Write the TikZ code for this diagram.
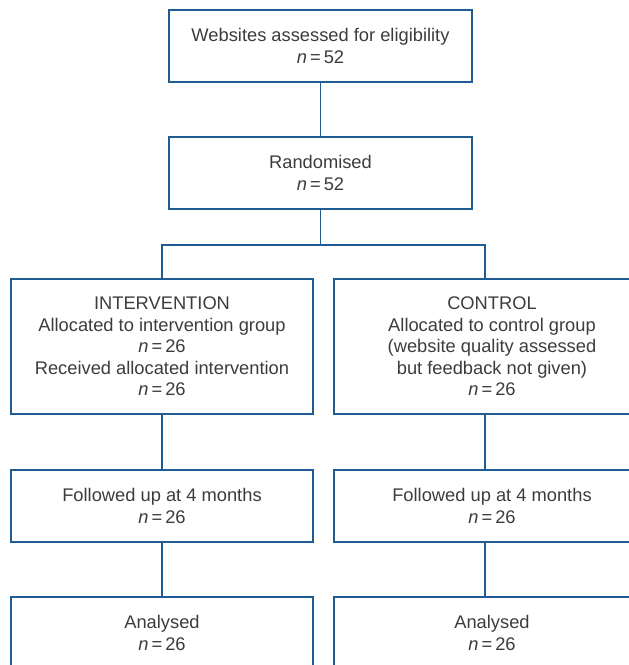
\documentclass[tikz,border=0pt]{standalone}
\usepackage{fontspec}
\setmainfont{Liberation Sans}
\definecolor{boxblue}{HTML}{1F5C94}
\definecolor{txtgrey}{HTML}{3C3C3C}
\begin{document}
\begin{tikzpicture}[x=1pt,y=-1pt,
  box/.style={draw=boxblue, line width=1.8pt, text=txtgrey, align=center, inner sep=0pt,
              font=\fontsize{18.3}{21.5}\selectfont},
  link/.style={draw=boxblue, line width=1.8pt}]
\useasboundingbox (0,0) rectangle (629,665);
\clip (0,0) rectangle (629,665);
\newcommand{\nval}[1]{\textit{n}\,=\,#1}
% top
\node[box, minimum width=303pt, minimum height=72pt] (web) at (320.5,46)
  {Websites assessed for eligibility\\\nval{52}};
\node[box, minimum width=303pt, minimum height=72pt] (rand) at (320.5,173)
  {Randomised\\\nval{52}};
% allocation
\node[box, minimum width=302pt, minimum height=135pt] (int) at (162,346.5)
  {INTERVENTION\\Allocated to intervention group\\\nval{26}\\Received allocated intervention\\\nval{26}};
\node[box, minimum width=316pt, minimum height=135pt] (ctl) at (492,346.5)
  {CONTROL\\Allocated to control group\\(website quality assessed\\but feedback not given)\\\nval{26}};
% follow up
\node[box, minimum width=302pt, minimum height=72pt] (ifu) at (162,506)
  {Followed up at 4 months\\\nval{26}};
\node[box, minimum width=316pt, minimum height=72pt] (cfu) at (492,506)
  {Followed up at 4 months\\\nval{26}};
% analysed
\node[box, minimum width=302pt, minimum height=72pt] (ian) at (162,633)
  {Analysed\\\nval{26}};
\node[box, minimum width=316pt, minimum height=72pt] (can) at (492,633)
  {Analysed\\\nval{26}};
% connectors
\coordinate (jl) at (162,245);
\coordinate (jr) at (485,245);
\draw[link] (web.south) -- (rand.north);
\draw[link] (rand.south) -- (rand.south |- jl);
\draw[link] (int.north) |- (jr) -- (jr |- ctl.north);
\draw[link] (int.south) -- (ifu.north);
\draw[link] (ifu.south) -- (ian.north);
\draw[link] (jr |- ctl.south) -- (jr |- cfu.north);
\draw[link] (jr |- cfu.south) -- (jr |- can.north);
\end{tikzpicture}
\end{document}
